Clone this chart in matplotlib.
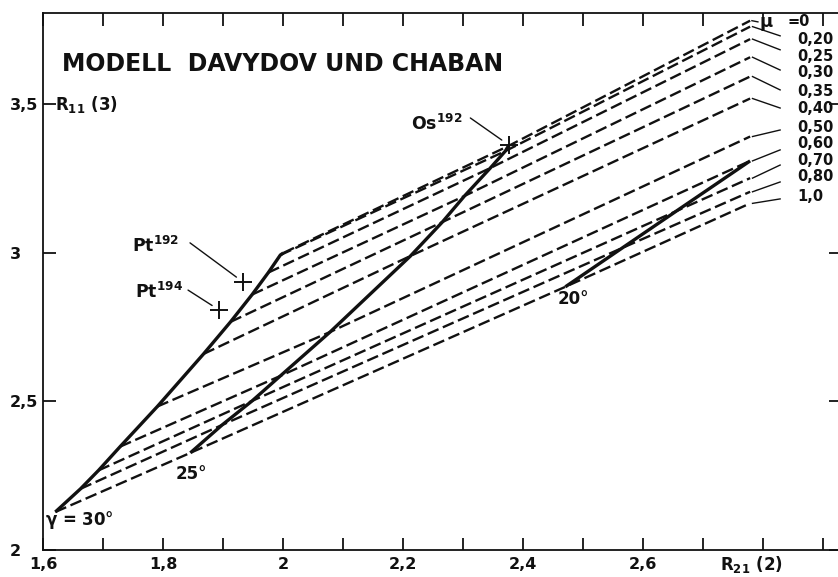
import matplotlib
matplotlib.use('Agg')
import matplotlib.pyplot as plt

plt.rcParams['font.family'] = ['DejaVu Sans']
plt.rcParams['font.weight'] = 'bold'
plt.rcParams['mathtext.default'] = 'bf'

# Werte von mu (Beschriftung rechts)
mu_labels = ['0', '0,20', '0,25', '0,30', '0,35', '0,40', '0,50', '0,60', '0,70', '0,80', '1,0']

# Punkte auf der Kurve gamma = 30 Grad, je mu
r21_g30 = [2.000, 1.995, 1.975, 1.948, 1.912, 1.867, 1.790, 1.728, 1.692, 1.662, 1.620]
r11_g30 = [3.000, 2.993, 2.934, 2.860, 2.768, 2.660, 2.483, 2.348, 2.268, 2.206, 2.128]

# Punkte auf der Kurve gamma = 25 Grad
r21_g25 = [2.375, 2.370, 2.345, 2.302, 2.265, 2.212, 2.078, 1.995, 1.948, 1.898, 1.845]
r11_g25 = [3.360, 3.343, 3.286, 3.192, 3.104, 2.990, 2.734, 2.586, 2.502, 2.421, 2.327]

# gamma = 20 Grad, nur fuer mu = 0,60 ... 1,0
g20_index = [7, 8, 9, 10]
r21_g20 = [2.778, 2.655, 2.565, 2.470]
r11_g20 = [3.310, 3.141, 3.017, 2.886]

# Endpunkte der gestrichelten Linien
r21_end = 2.778
r11_end = [3.782, 3.762, 3.720, 3.659, 3.594, 3.520, 3.392, 3.310, 3.252, 3.206, 3.167]

# Messpunkte
nuclei = ['Pt$^{192}$', 'Pt$^{194}$', 'Os$^{192}$']
r21_exp = [1.933, 1.893, 2.3755]
r11_exp = [2.902, 2.808, 3.364]

xticks = [1.6, 1.7, 1.8, 1.9, 2.0, 2.1, 2.2, 2.3, 2.4, 2.5, 2.6, 2.7, 2.8, 2.9]
xtick_labels = ['1,6', '', '1,8', '', '2', '', '2,2', '', '2,4', '', '2,6', '', '', '']
yticks = [2.0, 2.5, 3.0, 3.5]
ytick_labels = ['2', '2,5', '3', '3,5']

fig = plt.figure(figsize=(8.38, 5.77), dpi=100)
ax = fig.add_axes([0.0517, 0.0468, 0.9519, 0.9302])
ax.set_xlim(1.6, 2.9295)
ax.set_ylim(2.0, 3.807)

ink = '#111111'

# gestrichelte Linien mu = const
for i in range(len(mu_labels)):
    xs = [r21_g30[i], r21_g25[i]]
    ys = [r11_g30[i], r11_g25[i]]
    if i in g20_index:
        k = g20_index.index(i)
        xs.append(r21_g20[k])
        ys.append(r11_g20[k])
    xs.append(r21_end)
    ys.append(r11_end[i])
    ax.plot(xs, ys, color=ink, lw=1.7, dashes=(5.0, 2.0), solid_capstyle='butt')

# durchgezogene Linien gamma = const
ax.plot(r21_g30, r11_g30, color=ink, lw=2.4, solid_capstyle='butt')
ax.plot(r21_g25, r11_g25, color=ink, lw=2.4, solid_capstyle='butt')
ax.plot(r21_g20, r11_g20, color=ink, lw=2.4, solid_capstyle='butt')

# Messpunkte mit Hinweislinien
ax.plot(r21_exp, r11_exp, ls='none', marker='+', ms=13, mew=1.4, color=ink)
label_pos = [(1.748, 3.003), (1.753, 2.848), (2.212, 3.414)]
leader_start = [(1.8445, 3.034), (1.8412, 2.875), (2.3117, 3.4545)]
for name, x, y, lp, ls in zip(nuclei, r21_exp, r11_exp, label_pos, leader_start):
    ax.text(lp[0], lp[1], name, fontsize=12.5, ha='left', va='baseline', color=ink)
    ax.annotate('', xy=(x, y), xytext=ls,
                arrowprops=dict(arrowstyle='-', lw=1.0, color=ink, shrinkA=0, shrinkB=6))

# Beschriftung der Winkel
ax.text(1.603, 2.101, r'$\gamma$ = 30°', fontsize=12, ha='left', va='center', color=ink)
ax.text(1.82, 2.256, '25°', fontsize=12, ha='left', va='center', color=ink)
ax.text(2.458, 2.845, '20°', fontsize=12, ha='left', va='center', color=ink)

# Beschriftung mu rechts
label_y = [3.778, 3.72, 3.66, 3.606, 3.542, 3.485, 3.421, 3.370, 3.310, 3.256, 3.189]
leader_y = [3.78, 3.731, 3.684, 3.616, 3.549, 3.488, 3.414, 3.347, 3.296, 3.239, 3.182]
for i, lab in enumerate(mu_labels):
    if i == 0:
        ax.plot([2.781, 2.791], [r11_end[0], r11_end[0] - 0.004], color=ink, lw=1.0)
        ax.text(2.792, 3.77, r'$\mu$', fontsize=13, ha='left', va='center', color=ink)
        ax.text(2.84, label_y[0], '=0', fontsize=10.5, ha='left', va='center', color=ink)
        continue
    ax.plot([2.782, 2.828], [r11_end[i], leader_y[i]], color=ink, lw=1.0)
    ax.text(2.857, label_y[i], lab, fontsize=10.5, ha='left', va='center', color=ink)

# Titel und Achsenbeschriftung
ax.text(1.6317, 3.636, 'MODELL  DAVYDOV UND CHABAN', fontsize=17, ha='left', va='center', color=ink)
ax.text(1.62, 3.481, r'$R_{11}$ (3)', fontsize=12, ha='left', va='baseline', color=ink)
ax.text(2.728, 1.933, r'$R_{21}$ (2)', fontsize=12, ha='left', va='baseline', color=ink, clip_on=False)

ax.set_xticks(xticks, xtick_labels)
ax.set_yticks(yticks, ytick_labels)
ax.tick_params(axis='x', direction='in', length=9, width=1.3, top=True, pad=5, labelsize=11.5, colors=ink)
ax.tick_params(axis='y', direction='in', length=9, width=1.3, right=True, pad=24, labelsize=11.5, colors=ink)
for lab in ax.get_yticklabels():
    lab.set_horizontalalignment('left')
for sp in ax.spines.values():
    sp.set_linewidth(1.3)
    sp.set_color(ink)

fig.savefig('out.png', dpi=100)
